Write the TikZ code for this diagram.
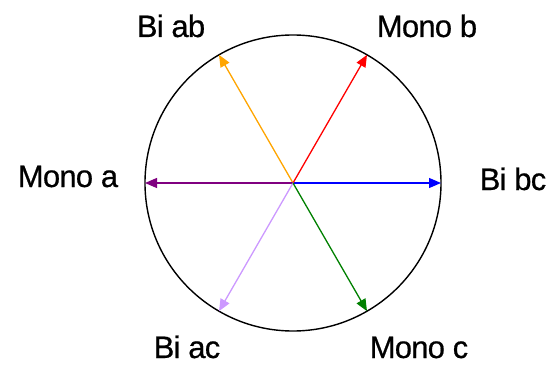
\documentclass[tikz,border=0pt]{standalone}
\usepackage{fontspec}
\setmainfont{Liberation Sans}
\newfontfamily\rotulofont[LetterSpace=-2.5, FakeBold=0.6]{Liberation Sans}
\usetikzlibrary{positioning, arrows.meta, calc}
\definecolor{faseorange}{RGB}{255,165,0}
\definecolor{faselilas}{RGB}{204,153,255}
\definecolor{faseroxo}{RGB}{128,0,128}
\definecolor{faseverde}{RGB}{0,128,0}
\begin{document}
\begin{tikzpicture}[x=1pt, y=1pt,
    vetor/.style={line width=1.3pt, -{Triangle[length=12pt, width=10pt]}},
    rotulo/.style={font=\rotulofont\fontsize{31}{31}\selectfont, anchor=base, inner sep=0pt}]
    \useasboundingbox (0,0) rectangle (552,365);
    % Circulo
    \coordinate (O) at (293,182);
    \draw[line width=1.4pt] (O) circle (148);
    % Vetores de fase
    \foreach \ang/\cor/\nome in {
      0/blue/bc,
      60/red/b,
      120/faseorange/ab,
      180/faseroxo/a,
      240/faselilas/ac,
      300/faseverde/c
    }
    {
      \coordinate (p\nome) at ($(O)+(\ang:148)$);
      \draw[vetor, \cor] (O) -- (p\nome);
    }
    % Rotulos
    \node[rotulo] (lab) at (171,328) {Bi ab};
    \node[rotulo] (lb) at (427,328) {Mono b};
    \node[rotulo] (la) at (68,178) {Mono a};
    \node[rotulo] (lbc) at (513,175) {Bi bc};
    \node[rotulo] (lac) at (187,7) {Bi ac};
    \node[rotulo] (lc) at (419,7) {Mono c};
\end{tikzpicture}
\end{document}
